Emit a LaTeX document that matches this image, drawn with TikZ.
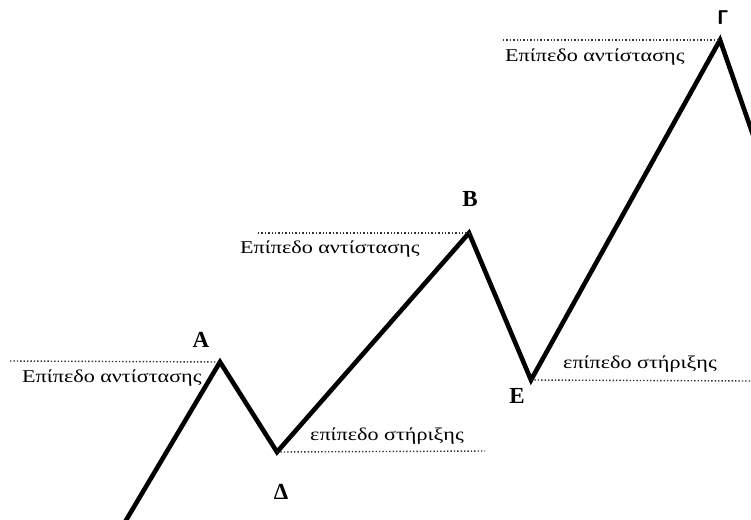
\documentclass[tikz,border=0pt]{standalone}
\usepackage{fontspec}
\setmainfont{Liberation Serif}
\begin{document}
\begin{tikzpicture}[x=1pt,y=-1pt,
  price/.style={line width=4.6pt,line join=miter,black},
  level/.style={line width=1.4pt,dotted,black!80},
  lvltext/.style={inner sep=0pt,font=\fontsize{18}{18}\selectfont},
  ptlabel/.style={inner sep=0pt,font=\fontsize{23}{23}\selectfont\bfseries}]
\useasboundingbox (0,0) rectangle (751,519);
\clip (0,0) rectangle (751,519);
\coordinate (S) at (125,522);
\coordinate (A) at (220,362);
\coordinate (D) at (277,452);
\coordinate (B) at (469,233);
\coordinate (E) at (531,380);
\coordinate (G) at (720,40);
\coordinate (F) at (760,155);
\draw[price] (S) -- (A) -- (D) -- (B) -- (E) -- (G) -- (F);
% levels
\coordinate (A0) at (10,361);
\coordinate (B0) at (258,233);
\coordinate (G0) at (503,40);
\coordinate (D1) at (485,451);
\coordinate (E1) at (751,381);
\draw[level] (A0) -- (A);
\draw[level] (B0) -- (B);
\draw[level] (G0) -- (G);
\draw[level] (D) -- (D1);
\draw[level] (E) -- (E1);
% point labels
\node[ptlabel] (lA) at (201,340) {A};
\node[ptlabel] (lB) at (470,199) {B};
\node[ptlabel,font=\fontsize{20}{20}\selectfont\sffamily\bfseries] (lG) at (723,18) {Γ};
\node[ptlabel] (lD) at (281,492) {Δ};
\node[ptlabel] (lE) at (517,396) {E};
% level labels
\node[lvltext,anchor=west] (tA) at (22,378) {\scalebox{1.23}[1]{Επίπεδο αντίστασης}};
\node[lvltext,anchor=west] (tB) at (240,249) {\scalebox{1.23}[1]{Επίπεδο αντίστασης}};
\node[lvltext,anchor=west] (tG) at (505,57) {\scalebox{1.23}[1]{Επίπεδο αντίστασης}};
\node[lvltext,anchor=west] (tD) at (310,436) {\scalebox{1.23}[1]{επίπεδο στήριξης}};
\node[lvltext,anchor=west] (tE) at (563,364) {\scalebox{1.23}[1]{επίπεδο στήριξης}};
\end{tikzpicture}
\end{document}
